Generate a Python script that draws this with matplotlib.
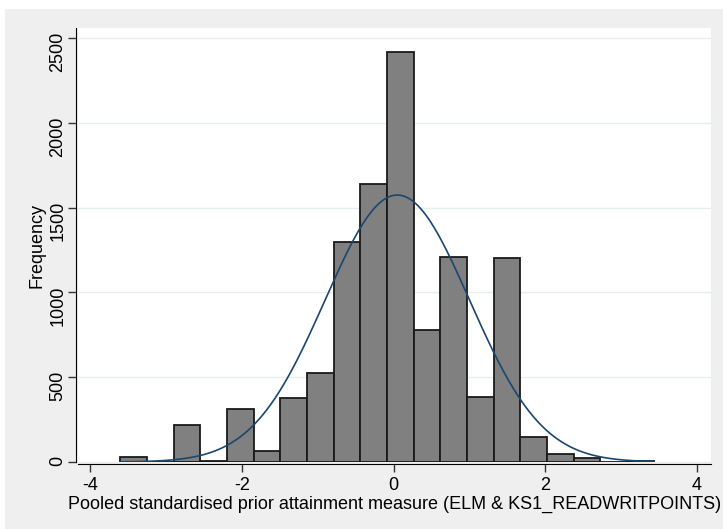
import numpy as np
import matplotlib.pyplot as plt
from matplotlib.patches import Rectangle

# histogram data (20 bins)
bin_left = -3.60
bin_width = 0.3515
counts = [30, 0, 218, 5, 312, 65, 377, 525, 1295, 1640,
          2415, 780, 1210, 385, 1205, 150, 47, 25, 0, 3]

# normal density overlay parameters
mu = 0.05
sd = 0.952

x_ticks = [-4, -2, 0, 2, 4]
y_ticks = [0, 500, 1000, 1500, 2000, 2500]

plt.rcParams['font.family'] = ['Liberation Sans', 'DejaVu Sans']
plt.rcParams['axes.unicode_minus'] = False

fig = plt.figure(figsize=(7.23, 5.29), dpi=100, facecolor='white')
# Stata-like gray graph region
bg = Rectangle((5 / 723, 0), 1, (529 - 9) / 529, transform=fig.transFigure,
               facecolor='#efefef', edgecolor='none', zorder=-10)
fig.add_artist(bg)

ax = fig.add_axes([78 / 723, (529 - 462) / 529, (711 - 78) / 723, (462 - 28) / 529])
ax.set_zorder(1)
ax.set_facecolor('white')

edges = bin_left + bin_width * np.arange(len(counts) + 1)
ax.bar(edges[:-1], counts, width=bin_width, align='edge',
       color='#808080', edgecolor='#1a1a1a', linewidth=1.3, zorder=2)

# normal curve scaled to frequency
n_total = sum(counts)
xs = np.linspace(edges[0], edges[-1], 400)
dens = n_total * bin_width * np.exp(-0.5 * ((xs - mu) / sd) ** 2) / (sd * np.sqrt(2 * np.pi))
ax.plot(xs, dens, color='#1a476f', linewidth=1.2, zorder=3)

ax.set_xlim(-4.157, 4.183)
ax.set_ylim(0, 2559)
ax.set_xticks(x_ticks)
ax.set_yticks(y_ticks)
ax.tick_params(axis='both', labelsize=13, length=6, width=1, color='#333333')
ax.tick_params(axis='y', labelrotation=90, pad=1)
for lab in ax.get_yticklabels():
    lab.set_verticalalignment('center')
ax.yaxis.grid(True, color='#e6efef', linewidth=1, zorder=0)
ax.set_axisbelow(True)

for s in ['top', 'right']:
    ax.spines[s].set_visible(False)
ax.spines['bottom'].set_position(('outward', 1.5))
ax.spines['left'].set_position(('outward', 1.5))

ax.set_ylabel('Frequency', fontsize=13, labelpad=3)
ax.set_xlabel('Pooled standardised prior attainment measure (ELM & KS1_READWRITPOINTS)',
              fontsize=13, labelpad=1)

fig.savefig('out.png', dpi=100, facecolor=fig.get_facecolor())
